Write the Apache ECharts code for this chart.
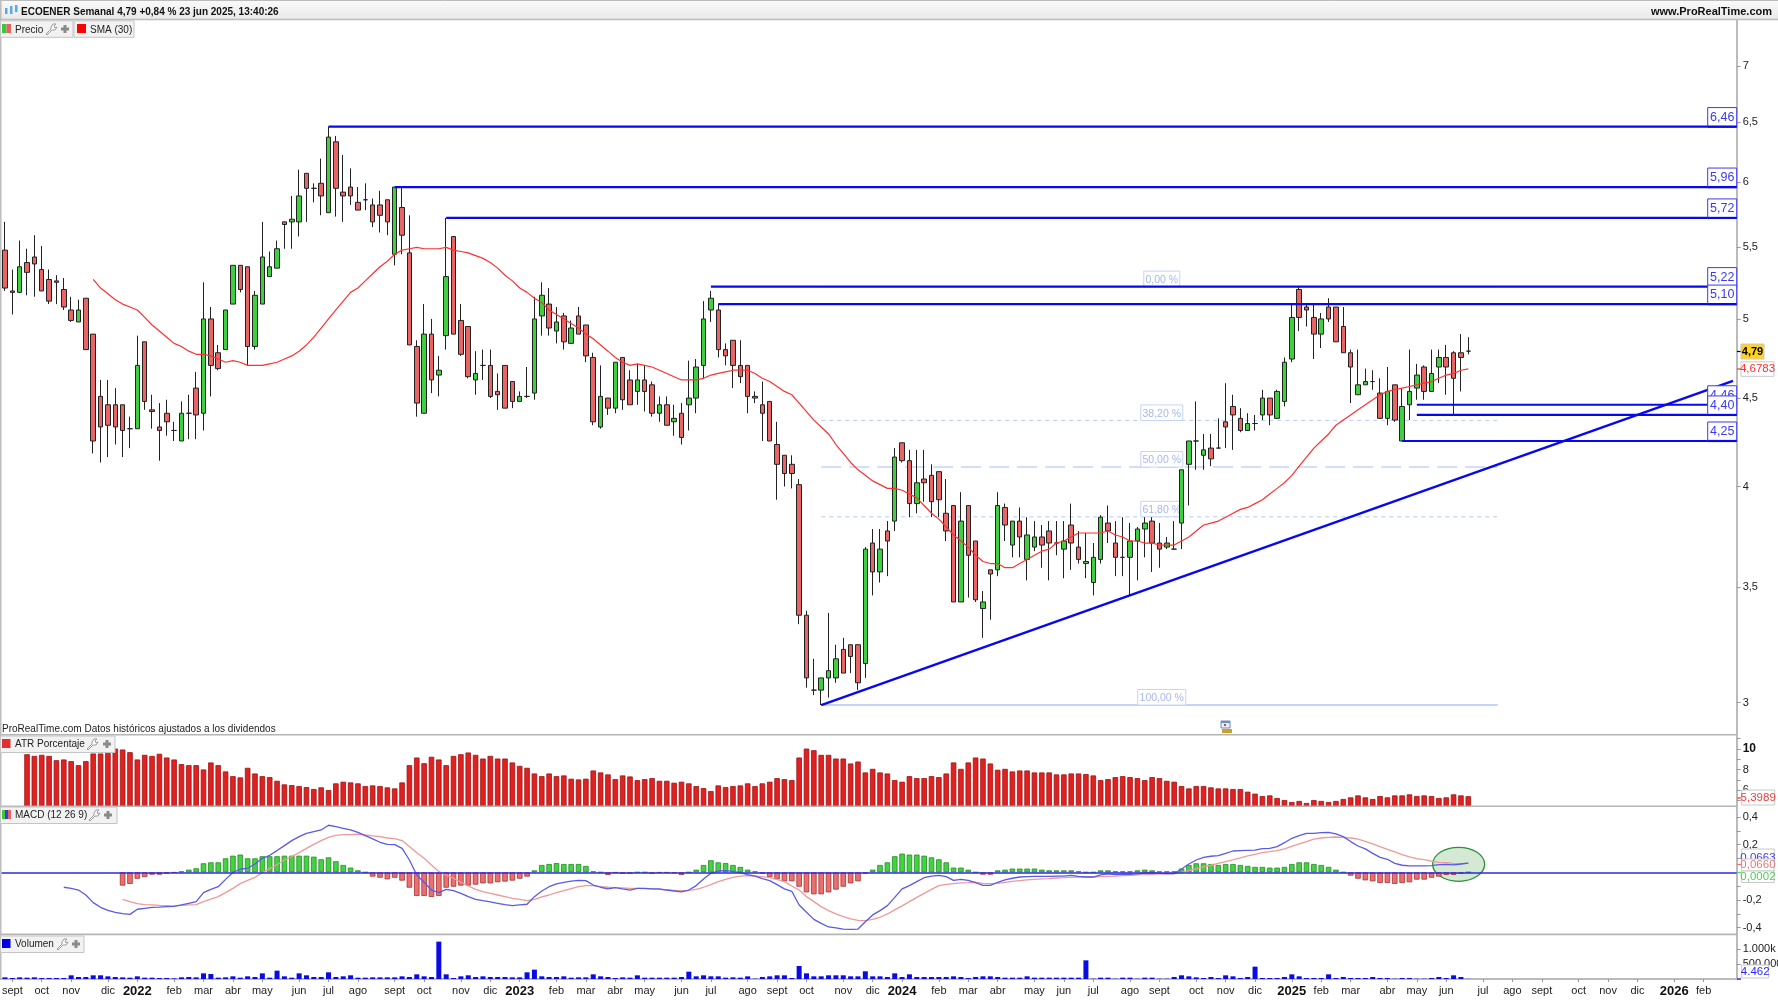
<!DOCTYPE html>
<html><head><meta charset="utf-8">
<style>html,body{margin:0;padding:0;background:#fff}#c{width:1778px;height:1000px}</style>
<script src="https://cdn.jsdelivr.net/npm/echarts@6/dist/echarts.min.js"></script>
</head><body><div id="c"></div>
<script>
const opens=[5.48,5.19,5.18,5.39,5.43,5.34,5.27,5.26,5.20,5.06,
4.98,5.14,4.90,4.51,4.46,4.46,4.46,4.32,4.32,4.85,
4.43,4.33,4.41,4.31,4.25,4.41,4.56,4.41,5.00,4.78,
4.80,5.10,5.37,5.36,4.82,5.10,5.29,5.35,5.69,5.69,
5.69,6.07,5.95,5.99,5.76,6.33,5.92,5.96,5.84,5.86,
5.82,5.82,5.86,5.45,5.80,5.46,4.82,4.41,4.90,4.64,
4.89,5.58,4.99,4.95,4.61,4.70,4.70,4.54,4.70,4.60,
4.48,4.51,4.53,5.02,5.10,4.92,5.02,4.84,5.02,4.96,
4.75,4.33,4.50,4.44,4.75,4.61,4.54,4.61,4.58,4.41,
4.46,4.36,4.41,4.46,4.50,4.70,5.06,5.06,4.80,4.86,
4.70,4.70,4.51,4.46,4.48,4.23,4.17,4.12,4.01,3.37,
3.05,3.05,3.10,3.10,3.22,3.24,3.24,3.16,3.71,3.57,
3.77,3.82,4.24,4.14,3.91,4.04,4.06,4.08,3.86,3.90,
3.43,3.90,3.72,3.40,3.58,3.58,3.89,3.70,3.82,3.63,
3.69,3.74,3.77,3.71,3.68,3.80,3.69,3.61,3.52,3.63,
3.81,3.71,3.64,3.64,3.72,3.78,3.82,3.71,3.69,3.68,
3.81,4.12,4.25,4.17,4.21,4.21,4.36,4.45,4.38,4.31,
4.35,4.40,4.50,4.38,4.48,4.74,5.20,5.08,5.01,4.90,
5.08,5.08,4.95,4.78,4.52,4.58,4.60,4.53,4.38,4.58,
4.25,4.46,4.56,4.69,4.54,4.69,4.75,4.78,4.78,4.79];
const closes=[5.21,5.18,5.36,5.32,5.38,5.19,5.12,5.25,5.08,4.99,
5.06,4.80,4.25,4.33,4.34,4.33,4.31,4.32,4.70,4.48,
4.42,4.31,4.36,4.31,4.41,4.41,4.40,5.00,4.70,4.68,
5.06,5.37,5.20,4.82,5.16,5.43,5.36,5.49,5.67,5.71,
5.89,5.95,5.95,5.89,6.37,5.95,5.89,5.89,5.78,5.86,
5.69,5.74,5.69,5.96,5.59,4.83,4.47,4.90,4.61,4.67,
5.29,4.90,4.77,4.63,4.65,4.70,4.51,4.52,4.44,4.48,
4.51,4.51,5.00,5.16,4.94,4.98,4.85,4.94,4.90,4.76,
4.36,4.51,4.44,4.72,4.49,4.46,4.61,4.54,4.41,4.46,
4.34,4.38,4.27,4.50,4.69,5.00,5.14,4.80,4.76,4.70,
4.63,4.51,4.50,4.41,4.25,4.12,4.07,4.07,3.37,3.10,
3.05,3.10,3.13,3.18,3.12,3.19,3.08,3.68,3.57,3.68,
3.72,4.16,4.14,3.91,4.02,4.02,3.92,3.93,3.77,3.43,
3.82,3.65,3.44,3.43,3.56,3.90,3.80,3.82,3.74,3.75,
3.74,3.70,3.71,3.71,3.72,3.71,3.63,3.62,3.64,3.84,
3.77,3.64,3.64,3.72,3.78,3.81,3.71,3.68,3.71,3.68,
4.09,4.25,4.25,4.20,4.15,4.21,4.33,4.40,4.31,4.35,
4.35,4.50,4.40,4.54,4.72,5.01,5.01,5.06,4.90,5.00,
5.00,4.85,4.78,4.69,4.58,4.60,4.60,4.38,4.54,4.37,
4.45,4.54,4.64,4.54,4.65,4.75,4.69,4.62,4.75,4.79];
const highs=[5.69,5.34,5.55,5.49,5.59,5.51,5.34,5.30,5.28,5.15,
5.13,5.14,4.90,4.61,4.61,4.56,4.46,4.39,4.89,4.85,
4.52,4.47,4.49,4.36,4.48,4.52,4.66,5.25,5.08,4.83,
5.06,5.37,5.37,5.36,5.19,5.69,5.47,5.55,5.69,5.89,
6.10,6.07,5.99,6.19,6.46,6.38,6.22,6.11,5.96,5.99,
5.87,5.93,5.86,5.96,5.96,5.74,4.86,5.10,5.00,4.76,
5.72,5.58,5.10,4.95,4.79,4.80,4.80,4.65,4.70,4.60,
4.54,4.69,5.15,5.25,5.21,5.08,5.04,4.99,5.08,4.96,
4.78,4.70,4.50,4.72,4.75,4.67,4.71,4.70,4.60,4.51,
4.51,4.46,4.47,4.73,4.74,5.12,5.19,5.10,4.84,4.86,
4.86,4.70,4.54,4.60,4.48,4.36,4.17,4.17,4.04,3.39,
3.18,3.10,3.38,3.24,3.27,3.24,3.24,3.69,3.78,3.78,
3.82,4.21,4.24,4.20,4.20,4.20,4.12,4.08,4.04,3.90,
3.97,3.90,3.72,3.48,3.58,3.97,3.91,3.82,3.89,3.84,
3.82,3.80,3.82,3.82,3.82,3.91,3.77,3.76,3.71,3.85,
3.90,3.82,3.84,3.81,3.79,3.84,3.84,3.81,3.74,3.82,
4.09,4.25,4.48,4.29,4.29,4.38,4.59,4.52,4.44,4.41,
4.40,4.55,4.50,4.55,4.75,5.10,5.22,5.10,5.10,5.04,
5.14,5.08,5.08,4.80,4.80,4.68,4.67,4.62,4.69,4.58,
4.56,4.80,4.71,4.70,4.80,4.80,4.83,4.79,4.90,4.88];
const lows=[5.19,5.03,5.18,5.16,5.15,5.19,5.10,5.10,5.06,4.98,
4.98,4.80,4.18,4.13,4.16,4.23,4.16,4.21,4.32,4.43,
4.32,4.14,4.28,4.25,4.25,4.26,4.26,4.31,4.51,4.67,
4.80,5.10,5.18,4.70,4.80,5.10,5.29,5.35,5.49,5.49,
5.58,5.69,5.84,5.74,5.76,5.73,5.69,5.82,5.78,5.78,
5.65,5.61,5.59,5.37,5.45,4.83,4.39,4.41,4.53,4.51,
4.80,4.90,4.76,4.62,4.52,4.61,4.50,4.43,4.44,4.44,
4.48,4.50,4.49,4.89,4.89,4.84,4.80,4.84,4.90,4.72,
4.34,4.32,4.40,4.41,4.43,4.46,4.46,4.42,4.39,4.36,
4.34,4.28,4.23,4.31,4.41,4.62,4.98,4.75,4.70,4.56,
4.59,4.41,4.47,4.25,4.25,3.93,4.00,3.99,3.33,3.06,
3.03,2.99,3.02,3.08,3.12,3.12,3.05,3.10,3.46,3.52,
3.55,3.77,4.13,3.84,3.86,3.92,3.84,3.84,3.72,3.43,
3.43,3.45,3.43,3.27,3.35,3.55,3.72,3.64,3.64,3.53,
3.67,3.59,3.53,3.65,3.54,3.58,3.61,3.54,3.46,3.61,
3.71,3.55,3.55,3.46,3.53,3.64,3.57,3.59,3.68,3.68,
3.68,3.90,4.09,4.09,4.11,4.21,4.21,4.20,4.30,4.31,
4.31,4.37,4.34,4.38,4.45,4.72,4.92,4.95,4.74,4.81,
4.98,4.85,4.78,4.47,4.52,4.58,4.55,4.38,4.34,4.36,
4.25,4.37,4.49,4.49,4.54,4.59,4.52,4.40,4.54,4.77];
const sma30=[null,null,null,null,null,null,null,null,null,null,
null,null,5.27,5.21,5.17,5.13,5.10,5.08,5.06,5.01,
4.96,4.92,4.88,4.84,4.82,4.79,4.77,4.77,4.76,4.74,
4.72,4.73,4.72,4.70,4.70,4.70,4.71,4.72,4.74,4.76,
4.79,4.83,4.88,4.94,5.00,5.06,5.12,5.18,5.21,5.26,
5.31,5.36,5.40,5.45,5.48,5.49,5.50,5.49,5.49,5.49,
5.50,5.48,5.47,5.46,5.44,5.42,5.39,5.35,5.30,5.26,
5.21,5.18,5.14,5.11,5.06,5.03,5.00,4.97,4.94,4.90,
4.87,4.83,4.79,4.75,4.72,4.70,4.71,4.70,4.69,4.67,
4.65,4.63,4.61,4.61,4.61,4.62,4.64,4.65,4.66,4.67,
4.67,4.67,4.65,4.62,4.60,4.57,4.54,4.52,4.47,4.42,
4.37,4.33,4.29,4.23,4.18,4.13,4.09,4.06,4.03,4.01,
3.99,3.99,3.98,3.96,3.94,3.90,3.86,3.83,3.79,3.75,
3.72,3.69,3.65,3.62,3.61,3.61,3.59,3.59,3.61,3.63,
3.65,3.67,3.68,3.71,3.72,3.74,3.76,3.76,3.76,3.76,
3.77,3.75,3.74,3.72,3.72,3.71,3.71,3.70,3.70,3.70,
3.72,3.74,3.77,3.80,3.81,3.82,3.84,3.86,3.88,3.89,
3.91,3.93,3.96,3.99,4.02,4.06,4.11,4.16,4.21,4.25,
4.29,4.34,4.37,4.40,4.43,4.46,4.49,4.52,4.54,4.55,
4.56,4.57,4.58,4.59,4.60,4.62,4.64,4.65,4.67,4.6783];
const atrPct=[null,null,null,9.48,9.32,9.42,9.32,8.90,8.97,8.81,
8.42,8.81,9.55,9.55,9.61,10.03,9.94,9.68,8.97,9.42,
9.32,9.52,9.16,8.97,8.52,8.42,8.42,8.00,8.68,8.42,
7.81,7.35,7.23,8.16,7.61,7.35,7.26,6.90,6.55,6.48,
6.39,6.29,6.10,6.26,6.00,6.65,6.81,6.74,6.65,6.39,
6.45,6.39,6.26,6.16,6.74,8.42,9.16,8.61,9.23,8.97,
8.42,9.32,9.48,9.65,9.42,9.06,9.32,9.06,9.06,8.68,
8.35,8.16,7.61,7.35,7.61,7.35,7.42,7.10,7.03,7.10,
7.90,7.71,7.52,7.06,7.42,7.32,6.97,7.06,7.16,6.90,
6.90,6.71,6.81,6.65,6.39,6.19,5.90,6.45,6.29,6.39,
6.45,6.65,6.39,6.65,6.81,7.16,7.06,6.97,9.16,10.03,
9.87,9.42,9.42,9.06,9.06,8.58,8.77,7.71,8.06,7.71,
7.61,6.97,6.81,7.35,7.16,7.16,7.35,7.26,7.61,8.68,
8.06,8.68,9.16,9.06,8.58,7.97,8.06,7.81,7.90,7.90,
7.71,7.71,7.71,7.52,7.52,7.61,7.61,7.55,7.42,6.97,
7.06,7.26,7.35,7.26,7.16,6.97,7.26,7.16,6.90,6.81,
6.39,6.16,6.39,6.39,6.26,6.16,6.16,6.10,6.10,5.84,
5.65,5.42,5.48,5.23,5.03,4.84,4.94,4.74,5.03,4.94,
4.84,4.94,5.13,5.29,5.48,5.29,5.13,5.42,5.29,5.48,
5.48,5.58,5.42,5.48,5.42,5.23,5.29,5.58,5.48,5.40];
const macdLine=[null,null,null,null,null,null,null,null,-.108,-.116,
-.128,-.164,-.219,-.253,-.275,-.289,-.299,-.304,-.267,-.260,
-.253,-.251,-.248,-.246,-.236,-.224,-.212,-.147,-.123,-.104,
-.051,-.002,.024,.029,.060,.101,.123,.157,.193,.229,
.258,.282,.294,.306,.340,.330,.318,.306,.289,.265,
.241,.217,.202,.200,.173,.089,-.019,-.072,-.128,-.147,
-.123,-.133,-.152,-.176,-.195,-.205,-.214,-.224,-.234,-.241,
-.236,-.231,-.176,-.135,-.104,-.084,-.072,-.063,-.058,-.060,
-.092,-.108,-.120,-.111,-.120,-.128,-.116,-.116,-.120,-.120,
-.128,-.135,-.142,-.128,-.096,-.048,-.007,.010,.012,.007,
-.002,-.017,-.027,-.046,-.060,-.089,-.120,-.137,-.236,-.289,
-.340,-.369,-.395,-.402,-.410,-.412,-.410,-.357,-.308,-.277,
-.241,-.181,-.120,-.096,-.067,-.039,-.027,-.022,-.031,-.058,
-.051,-.058,-.075,-.094,-.094,-.072,-.055,-.043,-.034,-.031,
-.029,-.029,-.029,-.027,-.027,-.022,-.029,-.034,-.034,-.019,
-.012,-.017,-.014,-.014,-.012,-.005,-.002,-.007,-.010,-.010,
.024,.060,.089,.108,.116,.120,.137,.154,.157,.159,
.161,.171,.173,.186,.214,.246,.265,.282,.282,.287,
.289,.277,.258,.222,.190,.169,.137,.108,.094,.065,
.051,.046,.046,.046,.048,.055,.058,.053,.060,.0663];
const macdSignal=[null,null,null,null,null,null,null,null,null,null,
null,null,null,null,null,null,-.195,-.212,-.227,-.234,
-.236,-.239,-.241,-.243,-.239,-.236,-.234,-.212,-.193,-.176,
-.147,-.116,-.082,-.058,-.036,-.002,.027,.055,.089,.113,
.142,.173,.202,.229,.253,.267,.272,.272,.275,.270,
.263,.258,.248,.243,.229,.186,.142,.101,.053,.005,
-.019,-.043,-.072,-.099,-.123,-.140,-.152,-.164,-.176,-.188,
-.195,-.205,-.195,-.178,-.164,-.147,-.133,-.118,-.104,-.096,
-.096,-.104,-.108,-.111,-.113,-.116,-.116,-.118,-.120,-.123,
-.128,-.130,-.133,-.130,-.123,-.108,-.089,-.067,-.051,-.036,
-.027,-.024,-.027,-.031,-.039,-.051,-.067,-.099,-.128,-.176,
-.212,-.248,-.277,-.301,-.320,-.337,-.347,-.349,-.340,-.325,
-.301,-.272,-.243,-.212,-.181,-.152,-.123,-.096,-.087,-.082,
-.077,-.075,-.072,-.080,-.082,-.080,-.072,-.065,-.060,-.055,
-.051,-.048,-.046,-.041,-.039,-.036,-.034,-.034,-.034,-.031,
-.029,-.027,-.024,-.022,-.019,-.017,-.014,-.012,-.012,-.010,
0,.012,.024,.039,.051,.065,.077,.089,.104,.118,
.130,.142,.149,.157,.169,.188,.205,.222,.239,.248,
.253,.255,.253,.248,.239,.224,.205,.186,.166,.147,
.128,.111,.099,.092,.080,.072,.070,.065,.063,.0660];
const macdHist=[null,null,null,null,null,null,null,null,null,null,
null,null,null,null,null,null,-.096,-.084,-.046,-.034,
-.017,-.017,-.010,-.002,.007,.019,.029,.065,.072,.072,
.101,.120,.128,.101,.101,.116,.116,.116,.120,.120,
.120,.120,.113,.094,.108,.080,.053,.034,.014,0,
-.031,-.039,-.051,-.039,-.060,-.111,-.171,-.171,-.178,-.171,
-.111,-.104,-.096,-.096,-.089,-.080,-.080,-.072,-.067,-.060,
-.046,-.031,.014,.053,.060,.067,.060,.060,.060,.046,
.007,0,-.019,-.002,-.010,-.010,0,0,-.010,-.002,
-.002,-.005,-.019,0,.019,.053,.087,.072,.067,.053,
.039,.019,.007,-.010,-.034,-.051,-.065,-.065,-.104,-.145,
-.159,-.159,-.145,-.125,-.104,-.080,-.065,-.010,.019,.053,
.072,.116,.135,.128,.128,.120,.108,.094,.072,.034,
.034,.019,0,-.017,-.017,.014,.019,.027,.027,.027,
.027,.019,.014,.014,.014,.014,.007,0,0,.014,
.014,.007,.007,.007,.014,.019,.014,.007,.007,.007,
.027,.053,.065,.065,.060,.053,.060,.060,.053,.046,
.039,.039,.034,.034,.039,.060,.072,.072,.060,.053,
.039,.019,0,-.024,-.046,-.058,-.065,-.077,-.077,-.084,
-.077,-.072,-.053,-.053,-.039,-.031,-.019,-.019,-.010,.0002];
const volumeK=[56,34,56,45,56,34,34,34,34,124,
67,67,124,124,90,67,56,45,90,45,
45,34,34,22,56,67,56,191,169,45,
56,90,45,90,67,191,45,281,90,45,
191,124,67,67,225,67,90,124,45,45,
56,56,56,56,90,67,157,90,67,1259,
157,34,90,124,67,90,67,67,67,56,
56,225,315,90,67,67,90,45,56,56,
157,90,67,34,56,45,124,45,45,45,
45,45,67,247,90,124,90,90,45,56,
45,90,11,67,90,124,124,34,438,191,
90,90,124,124,124,90,90,259,90,90,
67,191,67,157,67,67,67,67,67,90,
67,34,67,90,90,67,45,45,45,90,
45,45,45,45,45,45,45,629,11,45,
45,11,45,45,11,45,45,11,11,67,
124,90,56,34,67,34,124,90,34,67,
416,34,34,34,67,157,90,34,34,34,
157,34,67,34,34,34,67,34,34,11,
34,34,11,11,34,67,34,124,67,4.462];
const monthSlots=[1,5,9,14,18,23,27,31,35,40,44,48,53,57,62,66,70,75,79,83,87,92,96,101,105,109,114,118,122,127,131,135,140,144,148,153,157,162,166,170,175,179,183,188,192,196,201,205,209,214,218,222,227,231];
const monthLabels=['sept','oct','nov','dic','2022','feb','mar','abr','may','jun','jul','ago','sept','oct','nov','dic','2023','feb','mar','abr','may','jun','jul','ago','sept','oct','nov','dic','2024','feb','mar','abr','may','jun','jul','ago','sept','oct','nov','dic','2025','feb','mar','abr','may','jun','jul','ago','sept','oct','nov','dic','2026','feb'];
const levelValues=[6.46,5.96,5.72,5.22,5.10,4.46,4.40,4.25];
const levelStarts=[44,53,60,96,97,192,192,190];
const levelLabels=['6,46','5,96','5,72','5,22','5,10','4,46','4,40','4,25'];
const fibValues=[5.22,4.368,4.105,3.842,2.99];
const fibLabels=['0,00 %','38,20 %','50,00 %','61,80 %','100,00 %'];
const fibStart=111, fibEnd=203, fibLabelSlot=157;
const trendSlots=[111,235], trendValues=[2.99,4.604];
const priceTicks=[3,3.5,4,4.5,5,5.5,6,6.5,7];
const atrLabelTicks=[6,8,10], atrMinorTicks=[5,6,7,8,9,10,11];
const macdLabelTicks=[-.4,-.2,.2,.4], macdMinorTicks=[-.4,-.3,-.2,-.1,.1,.2,.3,.4];
const volumeTicks=[500,1000];
const slotCount=236;

const FONT='"Liberation Sans"';
const categories=Array.from({length:slotCount},(_,i)=>'w'+i);
const slotLabel={};monthSlots.forEach((s,i)=>slotLabel[s]=monthLabels[i]);
const candles=opens.map((o,i)=>[o,closes[i],lows[i],highs[i]]);
const L=1.3,W=1735.4;
const comma=v=>String(+(+v).toFixed(2)).replace('.',',');
const tick={show:true,length:4,lineStyle:{color:'#999',width:1}};
const axLine={show:true,onZero:false,lineStyle:{color:'#bbb',width:2}};
const lab={color:'#222',fontFamily:FONT,fontSize:11,margin:6,showMinLabel:true,showMaxLabel:true};
function xa(i,show){return{type:'category',gridIndex:i,data:categories,boundaryGap:true,
  show:show,axisLine:{show:show,onZero:false,lineStyle:{color:'#bbb',width:2}},
  axisTick:{show:show,alignWithLabel:true,length:3,interval:(x)=>slotLabel[x]!==undefined,lineStyle:{color:'#999'}},
  axisLabel:{show:show,interval:(x)=>slotLabel[x]!==undefined,hideOverlap:false,margin:6,color:'#222',fontFamily:FONT,fontSize:11,
    formatter:(v,x)=>{const t=slotLabel[x]||'';return /^\d{4}$/.test(t)?'{y|'+t+'}':t;},
    rich:{y:{fontFamily:FONT,fontSize:13,fontWeight:'bold',color:'#111'}}},
  splitLine:{show:false}};}

function renderLevel(params,api){
  const p=api.coord([api.value(0),api.value(1)]);
  const r=params.coordSys.x+params.coordSys.width;
  return{type:'group',children:[
    {type:'line',shape:{x1:p[0],y1:p[1],x2:r,y2:p[1]},style:{stroke:'#0808f0',lineWidth:2.2}},
    {type:'rect',shape:{x:r-29,y:p[1]-19,width:29,height:19},style:{fill:'#fff',stroke:'#3a3af5',lineWidth:1}},
    {type:'line',shape:{x1:r-29,y1:p[1],x2:r,y2:p[1]},style:{stroke:'#0808f0',lineWidth:2.2}},
    {type:'text',style:{text:levelLabels[params.dataIndex],x:r-14.5,y:p[1]-9.5,align:'center',verticalAlign:'middle',fill:'#3a3af5',font:'12.5px '+FONT}}
  ]};
}
function renderFib(params,api){
  const i=params.dataIndex;
  const a=api.coord([fibStart,fibValues[i]]),b=api.coord([fibEnd,fibValues[i]]),c=api.coord([fibLabelSlot,fibValues[i]]);
  const cx=c[0]+2.3;
  const t=fibLabels[i];const w=t.length>7?48:t.length>6?42:36;
  const dash=(i===1||i===3)?[4,4]:(i===2?[20,8]:null);
  return{type:'group',children:[
    {type:'line',shape:{x1:a[0],y1:a[1],x2:b[0],y2:b[1]},style:{stroke:'#c3d4fb',lineWidth:i===2?1.6:(i===4?2:1.2),lineDash:dash}},
    {type:'rect',shape:{x:cx-w/2,y:c[1]-15.5,width:w,height:15.5},style:{fill:'#fff',stroke:'#c3d4fb',lineWidth:1}},
    {type:'text',style:{text:t,x:cx,y:c[1]-6.5,align:'center',verticalAlign:'middle',fill:'#a7b8ea',font:'10.5px '+FONT}}
  ]};
}
function renderEllipse(params,api){
  const c=api.coord([api.value(0),api.value(1)]);
  return{type:'ellipse',shape:{cx:c[0]-2.3,cy:c[1],rx:26,ry:17},style:{fill:'rgba(90,170,90,0.26)',stroke:'#2f8f3a',lineWidth:1.3}};
}

const G=[];
const rect=(x,y,w,h,fill,stroke)=>G.push({type:'rect',z:50,silent:true,shape:{x,y,width:w,height:h},style:{fill,stroke:stroke||null,lineWidth:1}});
const text=(x,y,t,font,fill,align)=>G.push({type:'text',z:50,silent:true,x,y,style:{text:t,font:font+' '+FONT,fill:fill||'#222',align:align||'left',verticalAlign:'middle'}});
const hline=(x1,x2,y,c,w)=>G.push({type:'line',z:49,silent:true,shape:{x1,y1:y,x2,y2:y},style:{stroke:c,lineWidth:w}});
function plus(x,y){rect(x-4,y-1.5,8,3,'#8a8a8a');rect(x-1.5,y-4,3,8,'#8a8a8a');}
function wrench(x,y){G.push({type:'polyline',z:50,silent:true,shape:{points:[[x-5,y+5],[x-4,y+6],[x+1,y+1],[x+4,y+1],[x+6,y-2],[x+4,y-1],[x+3,y-3],[x+5,y-5],[x+2,y-5],[x,y-2],[x,y],[x-5,y+5]]},style:{stroke:'#9a9a9a',fill:'#fff',lineWidth:1}});}
function tagBox(x,y,w,h,t,color,fill,font){rect(x,y,w,h,fill||'#fff','#c8c8c8');text(x+w/2,y+h/2,t,font||'11.5px',color,'center');}
// header
G.push({type:'rect',z:48,silent:true,shape:{x:0,y:0,width:1778,height:19},style:{fill:{type:'linear',x:0,y:0,x2:0,y2:1,colorStops:[{offset:0,color:'#fafafa'},{offset:1,color:'#e9e9e9'}]}}});
hline(0,1778,19.5,'#bdbdbd',1.5);hline(0,1778,0.5,'#bbb',1);
rect(0,0,1.5,980,'#bdbdbd');
[[5,8,6,'#5aa9e6'],[10,6,8,'#5aa9e6'],[15,5,7,'#5aa9e6']].forEach(a=>rect(a[0],a[1],2.5,a[2],a[3]));
text(21,12,'ECOENER Semanal 4,79 +0,84 % 23 jun 2025, 13:40:26','bold 10px','#111');
text(1772,12,'www.ProRealTime.com','bold 11px','#111','right');
// separators
hline(0,1737,734.7,'#b5b5b5',1.6);hline(0,1737,806.2,'#b5b5b5',1.6);hline(0,1737,934.4,'#b5b5b5',1.6);
text(2,729,'ProRealTime.com Datos históricos ajustados a los dividendos','10px','#222');
// legends
rect(0.5,20.8,72.5,16.5,'#f2f2f2','#c4c4c4');
rect(2,24,4.5,9,'#3cc83c');rect(6.5,24,4.5,9,'#e86060');
text(15,30,'Precio','10px','#222');wrench(51,29);plus(65,29);
rect(74,20.8,60,16.5,'#f2f2f2','#c4c4c4');
rect(77,24,9,9,'#ff0000');text(90,30,'SMA (30)','10px','#222');
rect(0.5,736,114.5,16.5,'#f2f2f2','#c4c4c4');
rect(2,739,8.5,9,'#e03030');text(15,744.5,'ATR Porcentaje','10px','#222');wrench(92,744);plus(107,744);
rect(0.5,807,116.5,16.5,'#f2f2f2','#c4c4c4');
rect(2,810,3,9,'#3cc83c');rect(5,810,3,9,'#3a3ae0');rect(8,810,3,9,'#e86060');text(15,815.5,'MACD (12 26 9)','10px','#222');wrench(94,815);plus(108,815);
rect(0.5,936,83.5,16.5,'#f2f2f2','#c4c4c4');
rect(2,939,8.5,9,'#0000e8');text(15,944.5,'Volumen','10px','#222');wrench(62,944);plus(76,944);
// calendar icon
rect(1221,721,9,7,'#e8eef8','#6a8fc0');rect(1221,721,9,2,'#6a8fc0');rect(1224,724,2,2,'#d04040');
rect(1222,729,10,4,'#c9a227');
// right tags
hline(1737,1741,351.5,'#000',1.2);tagBox(1741,344,23,15,'4,79','#000','#ffd21e','bold 11px');
hline(1737,1741,369,'#ff3030',1.2);tagBox(1741,361.8,33,14.5,'4,6783','#ff3030');
hline(1737,1741,798,'#ff3030',1.2);tagBox(1741.7,790,33,15,'5,3989','#f03a3a');
tagBox(1741.7,849,32.5,18,'0,0663','#3a3af0');
hline(1737,1741,864.5,'#e87070',1.2);tagBox(1741.7,859,32.5,12,'0,0660','#e87878');
hline(1737,1741,872.5,'#55dd55',1.2);tagBox(1741.7,871,32.5,11.5,'0,0002','#55cc55');
tagBox(1741.7,965,27,13,'4.462','#2a2af5');hline(1737,1741,979,'#2a2af5',1.5);

const noBounds={outerBoundsMode:'none',containLabel:false};
const option={
  animation:false,backgroundColor:'#fff',
  grid:[
    {...noBounds,left:L,width:W,top:20,height:714.5},
    {...noBounds,left:L,width:W,top:735,height:71},
    {...noBounds,left:L,width:W,top:806.3,height:128},
    {...noBounds,left:L,width:W,top:934.3,height:44.7}
  ],
  xAxis:[xa(0,false),xa(1,false),xa(2,false),xa(3,true)],
  yAxis:[
    {type:'log',logBase:10,gridIndex:0,position:'right',min:2.875,max:7.445,scale:true,splitLine:{show:false},minorTick:{show:false},
      axisLine:axLine,axisTick:{...tick,customValues:priceTicks},axisLabel:{...lab,customValues:priceTicks,formatter:comma}},
    {type:'value',gridIndex:1,position:'right',min:4.45,max:11.35,splitLine:{show:false},
      axisLine:axLine,axisTick:{...tick,customValues:atrMinorTicks},
      axisLabel:{...lab,customValues:atrLabelTicks,formatter:v=>v==10?'{b|10}':String(v),rich:{b:{fontFamily:FONT,fontSize:12,fontWeight:'bold',color:'#111'}}}},
    {type:'value',gridIndex:2,position:'right',min:-.448,max:.477,splitLine:{show:false},
      axisLine:axLine,axisTick:{...tick,customValues:macdMinorTicks},axisLabel:{...lab,customValues:macdLabelTicks,formatter:comma}},
    {type:'value',gridIndex:3,position:'right',min:0,max:1506,splitLine:{show:false},
      axisLine:axLine,axisTick:{...tick,customValues:volumeTicks},axisLabel:{...lab,customValues:volumeTicks,formatter:v=>v==1000?'1.000k':'500.000'}}
  ],
  series:[
    {type:'custom',name:'Fibonacci',xAxisIndex:0,yAxisIndex:0,z:1,renderItem:renderFib,encode:{x:0,y:1},data:fibValues.map(v=>[fibStart,v]),silent:true},
    {type:'candlestick',name:'Precio',xAxisIndex:0,yAxisIndex:0,z:2,barWidth:5,data:candles,silent:true,
      itemStyle:{color:'#3fd03f',color0:'#e96464',borderColor:'#222',borderColor0:'#222',borderColorDoji:'#222',borderWidth:1}},
    {type:'line',name:'SMA (30)',xAxisIndex:0,yAxisIndex:0,z:3,data:sma30,showSymbol:false,symbol:'none',connectNulls:false,silent:true,lineStyle:{color:'#ff3030',width:1.2}},
    {type:'line',name:'Tendencia',xAxisIndex:0,yAxisIndex:0,z:4,data:trendSlots.map((s,i)=>[s,trendValues[i]]),showSymbol:false,symbol:'none',silent:true,lineStyle:{color:'#0808f0',width:2.4}},
    {type:'custom',name:'Niveles',xAxisIndex:0,yAxisIndex:0,z:5,renderItem:renderLevel,encode:{x:0,y:1},data:levelValues.map((v,i)=>[levelStarts[i],v]),silent:true},
    {type:'bar',name:'ATR Porcentaje',xAxisIndex:1,yAxisIndex:1,barWidth:5.5,data:atrPct,silent:true,itemStyle:{color:'#e32020',borderColor:'#9a1414',borderWidth:0.8}},
    {type:'custom',name:'Elipse',xAxisIndex:2,yAxisIndex:2,z:1,renderItem:renderEllipse,encode:{x:0,y:1},data:[[198,.058]],silent:true},
    {type:'bar',name:'MACD hist',xAxisIndex:2,yAxisIndex:2,z:2,barWidth:5.5,silent:true,
      data:macdHist.map(v=>v===null?null:{value:v,itemStyle:v>=0?{color:'#45d045',borderColor:'#1f8f1f',borderWidth:0.8}:{color:'#e97070',borderColor:'#a83030',borderWidth:0.8}}),
      markLine:{silent:true,symbol:'none',animation:false,label:{show:false},lineStyle:{color:'#2a2ae6',width:1.5,type:'solid'},data:[{yAxis:0}]}},
    {type:'line',name:'Señal',xAxisIndex:2,yAxisIndex:2,z:3,data:macdSignal,showSymbol:false,symbol:'none',silent:true,lineStyle:{color:'#ee9a9a',width:1.3}},
    {type:'line',name:'MACD',xAxisIndex:2,yAxisIndex:2,z:4,data:macdLine,showSymbol:false,symbol:'none',silent:true,lineStyle:{color:'#5a5ae8',width:1.3}},
    {type:'bar',name:'Volumen',xAxisIndex:3,yAxisIndex:3,barWidth:5,data:volumeK,silent:true,itemStyle:{color:'#0a0ae6'}}
  ],
  graphic:{elements:G}
};
const chart=echarts.init(document.getElementById('c'),null,{renderer:'canvas'});
chart.setOption(option);
</script></body></html>
